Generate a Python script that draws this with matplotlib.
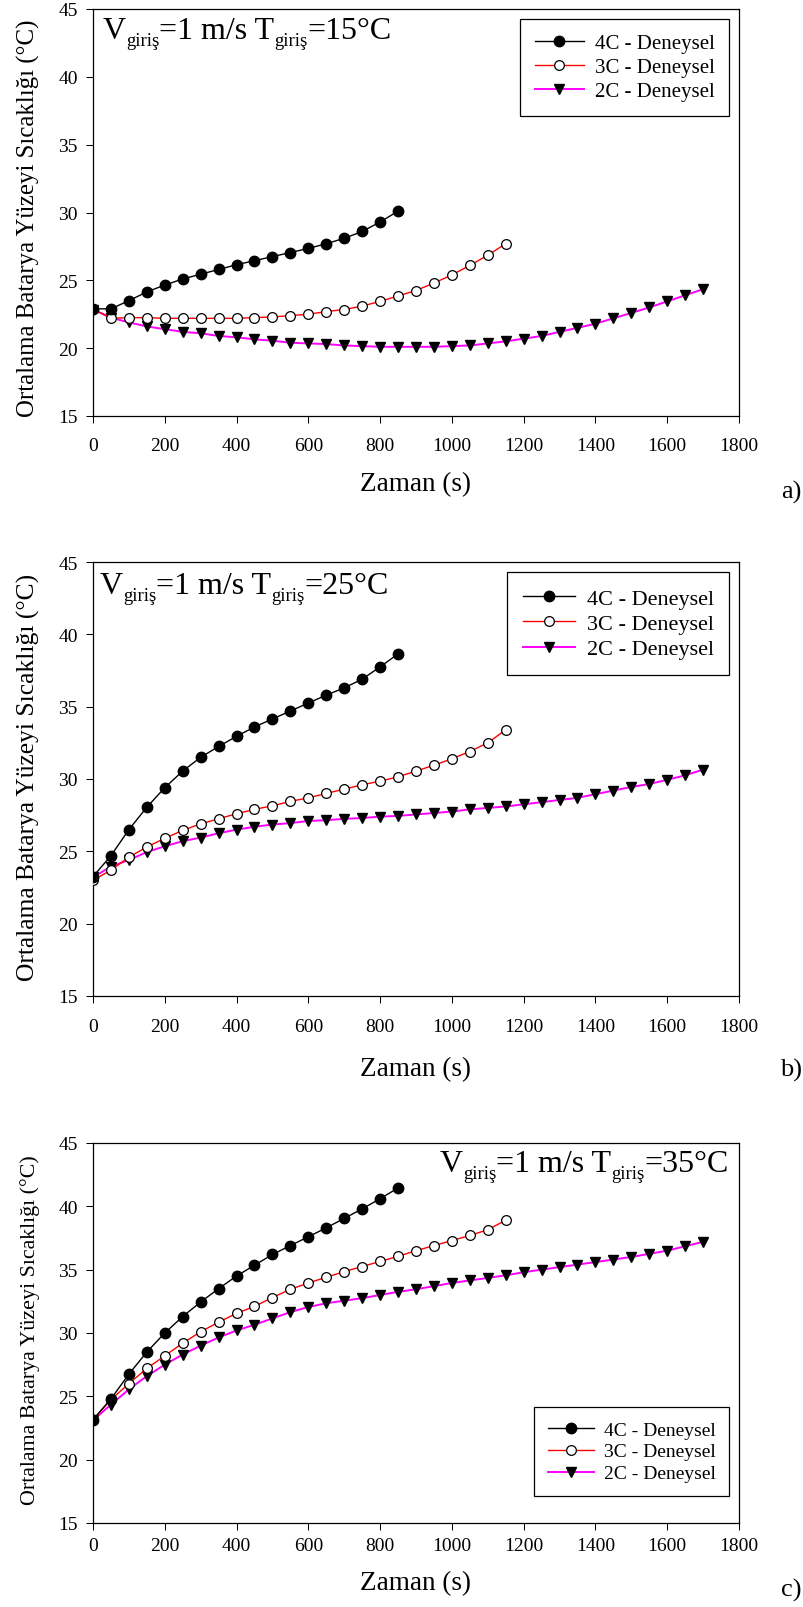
import matplotlib
matplotlib.use("Agg")
import matplotlib.pyplot as plt

plt.rcParams['font.family'] = ['Liberation Serif', 'DejaVu Serif']

# -----------------------------
# data
# -----------------------------

time_2c = [0, 50, 100, 150, 200, 250, 300, 350, 400, 450, 500, 550, 600, 650,
           700, 750, 800, 850, 900, 950, 1000, 1050, 1100, 1150, 1200, 1250,
           1300, 1350, 1400, 1450, 1500, 1550, 1600, 1650, 1700]
time_3c = time_2c[:24]
time_4c = time_2c[:18]

# a) T_giris = 15 C
a_4c = [22.9, 22.9, 23.5, 24.15, 24.65, 25.1, 25.45, 25.8, 26.15, 26.45, 26.75,
        27.05, 27.35, 27.7, 28.1, 28.6, 29.3, 30.1]
a_3c = [22.9, 22.2, 22.25, 22.25, 22.2, 22.2, 22.2, 22.2, 22.2, 22.25, 22.3,
        22.4, 22.5, 22.7, 22.85, 23.1, 23.45, 23.85, 24.25, 24.8, 25.4, 26.1,
        26.85, 27.7]
a_2c = [22.85, 22.25, 21.9, 21.6, 21.4, 21.2, 21.1, 20.9, 20.8, 20.65, 20.55,
        20.4, 20.35, 20.3, 20.2, 20.15, 20.1, 20.1, 20.1, 20.1, 20.15, 20.2,
        20.35, 20.5, 20.7, 20.9, 21.2, 21.5, 21.8, 22.2, 22.6, 23.0, 23.45,
        23.9, 24.35]

# b) T_giris = 25 C
b_4c = [23.25, 24.7, 26.5, 28.05, 29.4, 30.55, 31.5, 32.25, 32.95, 33.6, 34.15,
        34.7, 35.25, 35.8, 36.3, 36.9, 37.75, 38.65]
b_3c = [23.0, 23.7, 24.6, 25.3, 25.9, 26.45, 26.9, 27.25, 27.6, 27.9, 28.15,
        28.45, 28.7, 29.0, 29.3, 29.6, 29.85, 30.15, 30.55, 30.95, 31.4, 31.9,
        32.5, 33.4]
b_2c = [23.2, 23.95, 24.4, 24.95, 25.35, 25.7, 25.95, 26.25, 26.5, 26.7, 26.85,
        26.95, 27.1, 27.15, 27.25, 27.3, 27.4, 27.45, 27.55, 27.65, 27.75, 27.9,
        28.0, 28.1, 28.25, 28.4, 28.55, 28.7, 28.95, 29.2, 29.45, 29.65, 29.95,
        30.25, 30.65]

# c) T_giris = 35 C
c_4c = [23.15, 24.8, 26.75, 28.5, 30.0, 31.3, 32.45, 33.5, 34.5, 35.35, 36.2,
        36.9, 37.6, 38.3, 39.05, 39.8, 40.6, 41.45]
c_3c = [23.15, 24.75, 26.0, 27.2, 28.2, 29.2, 30.1, 30.85, 31.55, 32.1, 32.8,
        33.45, 33.95, 34.4, 34.85, 35.25, 35.65, 36.05, 36.5, 36.9, 37.3, 37.7,
        38.15, 38.9]
c_2c = [23.1, 24.35, 25.55, 26.6, 27.5, 28.3, 29.0, 29.65, 30.2, 30.65, 31.15,
        31.65, 32.05, 32.35, 32.55, 32.75, 33.0, 33.25, 33.45, 33.7, 33.95,
        34.15, 34.35, 34.55, 34.8, 35.0, 35.2, 35.4, 35.6, 35.8, 36.0, 36.25,
        36.5, 36.85, 37.2]

inlet_temps = ["15", "25", "35"]
panel_tags = ["a)", "b)", "c)"]
series_labels = ["4C - Deneysel", "3C - Deneysel", "2C - Deneysel"]

panels = [(a_4c, a_3c, a_2c), (b_4c, b_3c, b_2c), (c_4c, c_3c, c_2c)]

# -----------------------------
# layout (pixel boxes of the reference)
# -----------------------------

W, H = 804, 1608
boxes = [(93, 10, 739, 417), (93, 563, 739, 997), (93, 1144, 739, 1524)]
scale = [1.0, 1.066, 0.934]
ylab_size = [17.9, 18.4, 15.8]
ylab_y = [0.488, 0.505, 0.51]
xpad = [10, 11, 5]
xlabel_top = [55, 60, 47]
tag_y = [492, 1070, 1590]
# note: (x px, baseline px, alignment)
note_pos = [(103, 39, "left"), (100, 594, "left"), (729, 1172, "right")]

fig = plt.figure(figsize=(W / 100, H / 100), dpi=100)
renderer = fig.canvas.get_renderer()


def put_note(x_px, base_px, temp, align):
    # V_giris=1 m/s T_giris=..°C built from pieces, subscripts dropped a bit
    pieces = [("V", 23, 0), ("giriş", 13.5, -7), ("=1 m/s T", 23, 0),
              ("giriş", 13.5, -7), ("=" + temp + "°C", 23, 0)]
    objs = []
    cx = 0.0
    for txt, fs, dy in pieces:
        t = fig.text(0, 0, txt, fontsize=fs, ha="left", va="baseline")
        w = t.get_window_extent(renderer).width
        objs.append((t, cx, dy))
        cx += w
    x0 = x_px if align == "left" else x_px - cx
    for t, off, dy in objs:
        t.set_position(((x0 + off) / W, 1 - (base_px - dy) / H))


for i, (s4, s3, s2) in enumerate(panels):
    l, t, r, b = boxes[i]
    ax = fig.add_axes([l / W, 1 - b / H, (r - l) / W, (b - t) / H])
    sc = scale[i]

    ax.plot(time_2c, s2, color="magenta", lw=1.4, marker="v", ms=7.5,
            mfc="black", mec="black", label=series_labels[2], zorder=3)
    ax.plot(time_3c, s3, color="red", lw=1.0, marker="o", ms=7,
            mfc="white", mec="black", mew=0.9, label=series_labels[1], zorder=4)
    ax.plot(time_4c, s4, color="black", lw=1.0, marker="o", ms=7.5,
            mfc="black", mec="black", label=series_labels[0], zorder=5)

    ax.set_xlim(0, 1800)
    ax.set_ylim(15, 45)
    ax.set_xticks(range(0, 1801, 200))
    ax.set_yticks(range(15, 46, 5))
    ax.tick_params(direction="out", length=5, width=0.75, labelsize=14)
    ax.tick_params(axis="x", pad=xpad[i])
    ax.tick_params(axis="y", pad=6)
    for sp in ax.spines.values():
        sp.set_linewidth(0.9)

    ax.set_xlabel("Zaman (s)", fontsize=19.5)
    ax.xaxis.set_label_coords(0.5, -xlabel_top[i] / (b - t))
    ax.set_ylabel("Ortalama Batarya Yüzeyi Sıcaklığı (°C)", fontsize=ylab_size[i])
    ax.yaxis.set_label_coords(-53 / (r - l), ylab_y[i])

    nx, ny, al = note_pos[i]
    put_note(nx, ny, inlet_temps[i], al)

    h, lab = ax.get_legend_handles_labels()
    order = [2, 1, 0]
    if i < 2:
        loc, anchor = "upper right", (0.985, 0.976)
    else:
        loc, anchor = "lower right", (0.985, 0.071)
    leg = ax.legend([h[k] for k in order], [lab[k] for k in order], loc=loc,
                    bbox_to_anchor=anchor, borderaxespad=0, fontsize=15 * sc,
                    handlelength=2.35, handletextpad=0.53, labelspacing=0.22,
                    borderpad=0.7, fancybox=False, framealpha=1,
                    edgecolor="black")
    leg.get_frame().set_linewidth(0.9)

    fig.text(791 / W, 1 - tag_y[i] / H, panel_tags[i], fontsize=19,
             ha="center", va="center")

fig.savefig("out.png", dpi=100)
